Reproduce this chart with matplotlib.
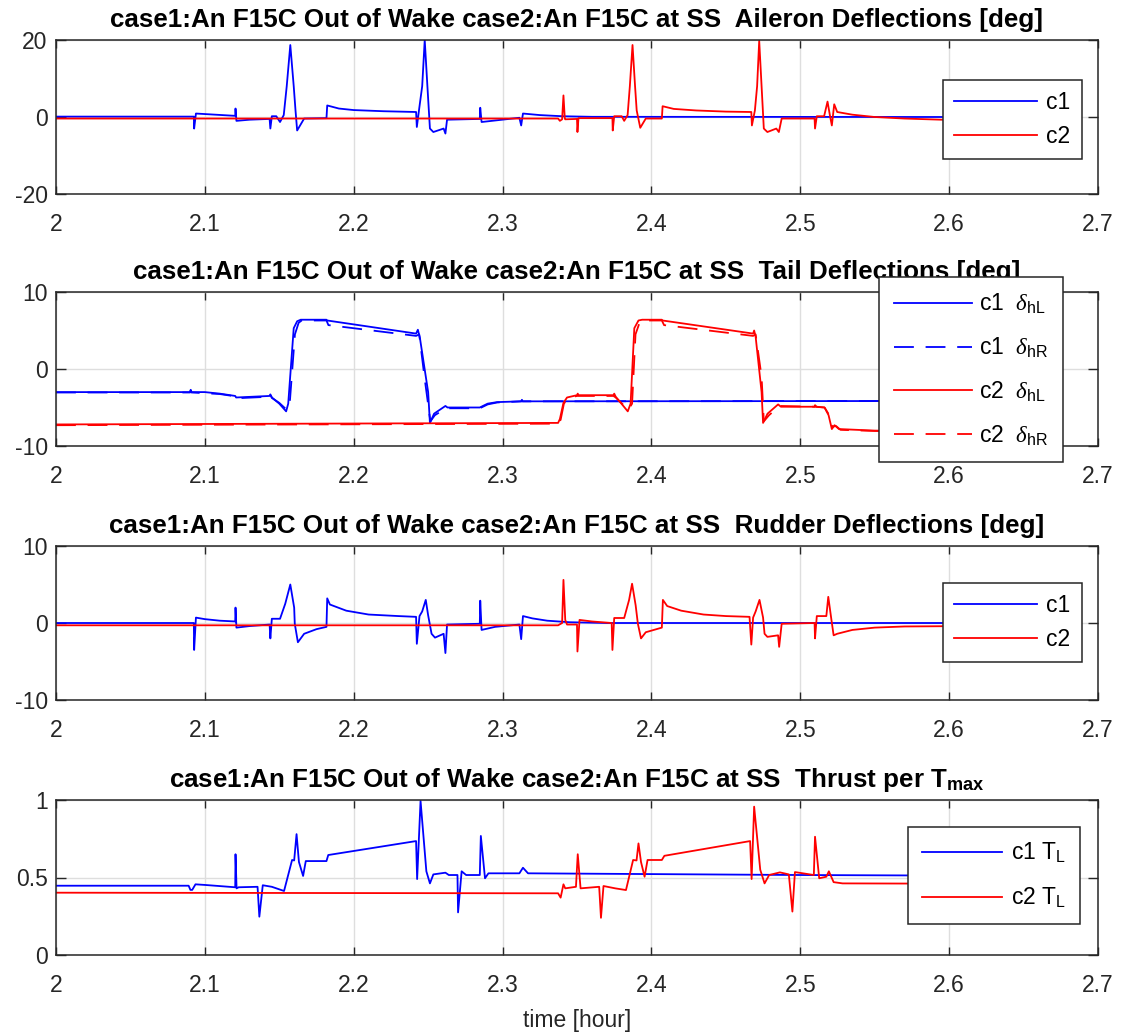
import matplotlib
matplotlib.use("Agg")
import matplotlib.pyplot as plt

plt.rcParams['font.family'] = ['Liberation Sans', 'DejaVu Sans']
plt.rcParams['mathtext.fontset'] = 'custom'
plt.rcParams['mathtext.rm'] = 'Liberation Sans'
plt.rcParams['mathtext.it'] = 'Liberation Serif:italic'
plt.rcParams['mathtext.bf'] = 'Liberation Sans:bold'

# ---------------- data (time in hours) ----------------
t_ail_c1 = [2.0, 2.0926, 2.0928, 2.0940, 2.1204, 2.1206, 2.1212, 2.1300, 2.1435, 2.1440, 2.1450, 2.1480,
            2.1505, 2.1530, 2.1550, 2.1574, 2.1597, 2.1609, 2.1620, 2.1667, 2.1817, 2.1822, 2.1900, 2.2000,
            2.2200, 2.2419, 2.2424, 2.2440, 2.2460, 2.2477, 2.2495, 2.2512, 2.2535, 2.2604, 2.2616, 2.2627,
            2.2847, 2.2850, 2.2859, 2.3113, 2.3125, 2.3137, 2.3250, 2.3400, 2.3600, 2.61]
ail_c1 = [0.1, 0.1, -3.0, 0.9, 0.3, 2.2, -1.0, -0.7, -0.5, -3.0, 0.2, 0.2,
          -1.3, 0.5, 8.0, 18.7, 8.0, 1.7, -3.5, -0.4, -0.3, 3.0, 2.2, 1.8,
          1.5, 1.3, -2.6, 2.2, 8.0, 20.0, 8.0, -3.0, -3.9, -3.0, -4.3, -0.7,
          -0.5, 2.4, -1.3, -0.2, -2.2, 0.9, 0.5, 0.2, 0.05, 0.0]

t_ail_c2 = [2.0, 2.3373, 2.3385, 2.3400, 2.3409, 2.3418, 2.3421, 2.3500, 2.3503, 2.3510, 2.3738, 2.3740,
            2.3750, 2.3800, 2.3817, 2.3840, 2.3855, 2.3873, 2.3890, 2.3901, 2.3925, 2.3962, 2.4070, 2.4075,
            2.4150, 2.4300, 2.4500, 2.4671, 2.4675, 2.4695, 2.4710, 2.4724, 2.4740, 2.4755, 2.4779, 2.4839,
            2.4856, 2.4875, 2.5096, 2.5099, 2.5111, 2.5160, 2.5183, 2.5200, 2.5212, 2.5228, 2.5248, 2.5350,
            2.5500, 2.5700, 2.5945, 2.61]
ail_c2 = [-0.4, -0.4, -1.0, -0.6, 5.6, -0.4, -0.6, -0.5, -3.9, -0.3, -0.3, -3.5,
          0.2, 0.2, -1.0, 0.5, 8.0, 18.7, 8.0, 1.7, -2.8, -0.4, -0.4, 2.8,
          2.1, 1.7, 1.4, 1.3, -2.2, 1.7, 8.0, 19.8, 8.0, -3.0, -3.9, -3.0,
          -3.9, -0.4, -0.4, -3.0, 0.2, 0.2, 4.0, 0.2, -2.2, 3.3, 1.3, 0.6,
          0.0, -0.4, -0.7, -0.7]

t_hl_c1 = [2.0, 2.0900, 2.0905, 2.0910, 2.1000, 2.1100, 2.1204, 2.1210, 2.1435, 2.1440, 2.1450, 2.1500,
           2.1546, 2.1560, 2.1597, 2.1620, 2.1644, 2.1817, 2.1822, 2.2419, 2.2431, 2.2445, 2.2500, 2.2512,
           2.2540, 2.2616, 2.2630, 2.2847, 2.2900, 2.2963, 2.3125, 2.3130, 2.3135, 2.61]
hl_c1 = [-3.0, -3.0, -2.7, -3.0, -3.0, -3.2, -3.5, -3.7, -3.5, -3.3, -3.7, -4.5,
         -5.5, -4.5, 5.3, 6.2, 6.4, 6.4, 6.3, 4.6, 5.1, 4.0, -3.0, -7.0,
         -5.8, -4.8, -5.0, -5.0, -4.5, -4.3, -4.2, -4.0, -4.2, -4.15]

t_hr_c1 = [2.0, 2.0900, 2.0905, 2.0910, 2.1100, 2.1204, 2.1210, 2.1435, 2.1440, 2.1450, 2.1500, 2.1550,
           2.1570, 2.1605, 2.1630, 2.1650, 2.1817, 2.1830, 2.2419, 2.2440, 2.2475, 2.2515, 2.2545, 2.2620,
           2.2847, 2.2900, 2.2963, 2.3125, 2.61]
hr_c1 = [-3.05, -3.05, -2.8, -3.05, -3.25, -3.55, -3.8, -3.6, -3.3, -3.75, -4.4, -5.3,
         -4.5, 4.5, 6.0, 6.3, 6.3, 5.7, 4.3, 4.5, -1.0, -6.8, -6.0, -5.1,
         -5.1, -4.6, -4.35, -4.2, -4.15]

t_hl_c2 = [2.0, 2.3373, 2.3385, 2.3409, 2.3433, 2.3500, 2.3505, 2.3510, 2.3745, 2.3750, 2.3760, 2.3841,
           2.3860, 2.3885, 2.3913, 2.3938, 2.4070, 2.4075, 2.4683, 2.4690, 2.4700, 2.4740, 2.4750, 2.4780,
           2.4851, 2.4870, 2.5096, 2.5099, 2.5110, 2.5163, 2.5190, 2.5212, 2.5230, 2.5260, 2.5500, 2.61]
hl_c2 = [-7.2, -7.0, -6.5, -4.4, -3.7, -3.4, -3.2, -3.4, -3.4, -3.2, -3.6, -5.5,
         -4.5, 5.3, 6.3, 6.4, 6.4, 6.3, 4.6, 5.0, 4.2, -3.0, -7.0, -5.8,
         -4.6, -4.9, -4.9, -4.7, -4.9, -5.0, -6.0, -7.8, -7.3, -7.8, -8.0, -8.1]

t_hr_c2 = [2.0, 2.3373, 2.3390, 2.3412, 2.3440, 2.3500, 2.3745, 2.3760, 2.3845, 2.3870, 2.3893, 2.3920,
           2.3945, 2.4070, 2.4085, 2.4683, 2.4700, 2.4740, 2.4755, 2.4790, 2.4860, 2.5096, 2.5163, 2.5195,
           2.5215, 2.5240, 2.5270, 2.5500, 2.61]
hr_c2 = [-7.3, -7.1, -6.6, -4.5, -3.8, -3.5, -3.5, -3.7, -5.3, -4.5, 4.5, 6.0,
         6.3, 6.3, 5.7, 4.3, 4.5, -1.0, -6.8, -6.0, -4.8, -4.9, -5.0, -6.0,
         -7.5, -7.4, -7.9, -8.05, -8.15]

t_rud_c1 = [2.0, 2.0926, 2.0928, 2.0940, 2.1000, 2.1100, 2.1204, 2.1206, 2.1212, 2.1300, 2.1435, 2.1440,
            2.1450, 2.1505, 2.1540, 2.1574, 2.1600, 2.1604, 2.1625, 2.1667, 2.1750, 2.1817, 2.1822, 2.1840,
            2.1950, 2.2100, 2.2300, 2.2419, 2.2424, 2.2442, 2.2460, 2.2484, 2.2500, 2.2523, 2.2546, 2.2604,
            2.2616, 2.2627, 2.2847, 2.2850, 2.2859, 2.2950, 2.3113, 2.3125, 2.3137, 2.3200, 2.3300, 2.3450,
            2.3700, 2.61]
rud_c1 = [0.0, 0.0, -3.5, 0.7, 0.5, 0.3, 0.2, 2.0, -0.6, -0.4, -0.2, -2.0,
          0.55, 0.55, 2.5, 5.0, 2.0, -0.1, -2.5, -1.4, -0.8, -0.5, 3.2, 2.4,
          1.6, 1.1, 0.9, 0.8, -2.7, 0.9, 1.5, 3.0, 1.0, -1.4, -1.9, -1.4,
          -3.9, -0.2, -0.1, 2.9, -0.9, -0.5, -0.2, -2.1, 0.9, 0.6, 0.3, 0.1,
          0.0, 0.0]

t_rud_c2 = [2.0, 2.3373, 2.3400, 2.3409, 2.3421, 2.3433, 2.3500, 2.3503, 2.3517, 2.3600, 2.3733, 2.3738,
            2.3750, 2.3817, 2.3850, 2.3870, 2.3894, 2.3909, 2.3930, 2.3962, 2.4070, 2.4077, 2.4106, 2.4200,
            2.4350, 2.4500, 2.4659, 2.4671, 2.4683, 2.4700, 2.4726, 2.4750, 2.4760, 2.4779, 2.4851, 2.4858,
            2.4875, 2.5096, 2.5099, 2.5111, 2.5175, 2.5188, 2.5210, 2.5224, 2.5248, 2.5350, 2.5500, 2.5700,
            2.61]
rud_c2 = [-0.3, -0.3, 0.0, 5.6, 0.4, -0.2, -0.2, -3.7, 0.4, 0.2, 0.0, -3.5,
          0.65, 0.65, 3.0, 5.1, 2.3, -0.1, -2.0, -1.2, -0.6, 3.0, 2.2, 1.6,
          1.1, 0.9, 0.8, -2.8, 0.7, 1.5, 3.0, 0.7, -1.4, -1.8, -1.6, -3.1,
          -0.1, 0.0, -2.0, 0.9, 0.9, 3.4, 0.3, -1.6, -1.4, -0.9, -0.6, -0.45,
          -0.4]

t_thr_c1 = [2.0, 2.0891, 2.0903, 2.0915, 2.0937, 2.1000, 2.1204, 2.1206, 2.1213, 2.1227, 2.1354, 2.1366,
            2.1389, 2.1450, 2.1532, 2.1586, 2.1600, 2.1616, 2.1632, 2.1660, 2.1678, 2.1817, 2.1829, 2.2419,
            2.2426, 2.2449, 2.2488, 2.2512, 2.2535, 2.2616, 2.2639, 2.2697, 2.2701, 2.2725, 2.2755, 2.2847,
            2.2854, 2.2882, 2.2905, 2.3113, 2.3137, 2.3171, 2.40, 2.50, 2.61]
thr_c1 = [0.447, 0.447, 0.42, 0.42, 0.456, 0.452, 0.437, 0.65, 0.43, 0.437, 0.44, 0.247,
          0.45, 0.44, 0.413, 0.613, 0.610, 0.78, 0.60, 0.51, 0.606, 0.606, 0.645, 0.735,
          0.49, 0.994, 0.54, 0.462, 0.52, 0.531, 0.516, 0.516, 0.275, 0.54, 0.516, 0.516,
          0.768, 0.495, 0.527, 0.527, 0.563, 0.527, 0.522, 0.516, 0.512]

t_thr_c2 = [2.0, 2.3373, 2.3390, 2.3409, 2.3421, 2.3493, 2.3505, 2.3524, 2.3649, 2.3661, 2.3678, 2.3757,
            2.3829, 2.3877, 2.3900, 2.3913, 2.3930, 2.3954, 2.3974, 2.4070, 2.4087, 2.4663, 2.4673, 2.4690,
            2.4731, 2.4760, 2.4791, 2.4863, 2.4923, 2.4947, 2.4964, 2.5091, 2.5099, 2.5127, 2.5175, 2.5192,
            2.5224, 2.5284, 2.61]
thr_c2 = [0.402, 0.398, 0.37, 0.456, 0.43, 0.44, 0.65, 0.43, 0.44, 0.24, 0.445, 0.43,
          0.419, 0.613, 0.61, 0.72, 0.60, 0.505, 0.613, 0.613, 0.64, 0.735, 0.49, 0.957,
          0.55, 0.462, 0.516, 0.533, 0.52, 0.28, 0.535, 0.516, 0.763, 0.495, 0.505, 0.54,
          0.47, 0.462, 0.46]

x_ticks = [2.0, 2.1, 2.2, 2.3, 2.4, 2.5, 2.6, 2.7]
x_tick_labels = ['2', '2.1', '2.2', '2.3', '2.4', '2.5', '2.6', '2.7']
prefix = 'case1:An F15C Out of Wake case2:An F15C at SS  '
titles = [prefix + 'Aileron Deflections [deg]',
          prefix + 'Tail Deflections [deg]',
          prefix + 'Rudder Deflections [deg]',
          prefix + r'Thrust per T$_{\mathbf{max}}$']
y_ticks = [[-20, 0, 20], [-10, 0, 10], [-10, 0, 10], [0, 0.5, 1]]
y_tick_labels = [['-20', '0', '20'], ['-10', '0', '10'], ['-10', '0', '10'], ['0', '0.5', '1']]
y_lims = [(-20, 20), (-10, 10), (-10, 10), (0, 1)]

# ---------------- figure ----------------
W, H = 1122, 1036
fig = plt.figure(figsize=(W / 100, H / 100), dpi=100)

BLUE = '#0000ff'
RED = '#ff0000'
DARK = '#262626'
LW = 1.3
TICK_FS = 16.5

ax_px = [(40, 194), (292, 446), (546, 700), (800, 955)]
left_px, right_px = 56, 1098
axes = []
for top, bot in ax_px:
    ax = fig.add_axes([left_px / W, 1 - bot / H, (right_px - left_px) / W, (bot - top) / H])
    axes.append(ax)

for i, ax in enumerate(axes):
    ax.set_xlim(2.0, 2.7)
    ax.set_ylim(*y_lims[i])
    ax.set_xticks(x_ticks)
    ax.set_xticklabels(x_tick_labels)
    ax.set_yticks(y_ticks[i])
    ax.set_yticklabels(y_tick_labels[i])
    ax.grid(True, color='#dedede', linewidth=1.0)
    ax.set_axisbelow(True)
    for s in ax.spines.values():
        s.set_color(DARK)
        s.set_linewidth(1.1)
    ax.tick_params(axis='both', which='both', direction='in', top=True, right=True,
                   colors=DARK, labelsize=TICK_FS, width=1.0)
    ax.tick_params(axis='x', length=6, pad=14)
    ax.tick_params(axis='y', length=7.5, pad=6)
    ax.set_title(titles[i], fontsize=18.7, fontweight='bold', pad=9, color='black')

leg_kw = dict(loc='upper left', bbox_transform=fig.transFigure, borderaxespad=0,
              fancybox=False, framealpha=1, edgecolor=DARK, fontsize=16.5)

ax = axes[0]
ax.plot(t_ail_c1, ail_c1, color=BLUE, lw=LW, label='c1')
ax.plot(t_ail_c2, ail_c2, color=RED, lw=LW, label='c2')
lg = ax.legend(bbox_to_anchor=(943 / W, 1 - 80 / H), labelspacing=0.45, borderpad=0.5,
               handlelength=3.6, handletextpad=0.4, **leg_kw)
lg.get_frame().set_linewidth(1.1)

ax = axes[1]
ax.plot(t_hl_c1, hl_c1, color=BLUE, lw=LW, label=r'c1  $\delta_{\mathrm{hL}}$')
l1, = ax.plot(t_hr_c1, hr_c1, color=BLUE, lw=LW, label=r'c1  $\delta_{\mathrm{hR}}$')
ax.plot(t_hl_c2, hl_c2, color=RED, lw=LW, label=r'c2  $\delta_{\mathrm{hL}}$')
l2, = ax.plot(t_hr_c2, hr_c2, color=RED, lw=LW, label=r'c2  $\delta_{\mathrm{hR}}$')
l1.set_dashes((11, 6.5))
l2.set_dashes((11, 6.5))
lg = ax.legend(bbox_to_anchor=(879 / W, 1 - 277 / H), labelspacing=0.85, borderpad=0.65,
               handlelength=3.4, handletextpad=0.3, **leg_kw)
lg.get_frame().set_linewidth(1.1)

ax = axes[2]
ax.plot(t_rud_c1, rud_c1, color=BLUE, lw=LW, label='c1')
ax.plot(t_rud_c2, rud_c2, color=RED, lw=LW, label='c2')
lg = ax.legend(bbox_to_anchor=(943 / W, 1 - 583 / H), labelspacing=0.45, borderpad=0.5,
               handlelength=3.6, handletextpad=0.4, **leg_kw)
lg.get_frame().set_linewidth(1.1)

ax = axes[3]
ax.plot(t_thr_c1, thr_c1, color=BLUE, lw=LW, label=r'c1 T$_{\mathrm{L}}$')
ax.plot(t_thr_c2, thr_c2, color=RED, lw=LW, label=r'c2 T$_{\mathrm{L}}$')
lg = ax.legend(bbox_to_anchor=(908 / W, 1 - 827 / H), labelspacing=0.9, borderpad=0.6,
               handlelength=3.5, handletextpad=0.4, **leg_kw)
lg.get_frame().set_linewidth(1.1)
ax.set_xlabel('time [hour]', fontsize=TICK_FS, color=DARK, labelpad=8)

fig.savefig('out.png', dpi=100)
